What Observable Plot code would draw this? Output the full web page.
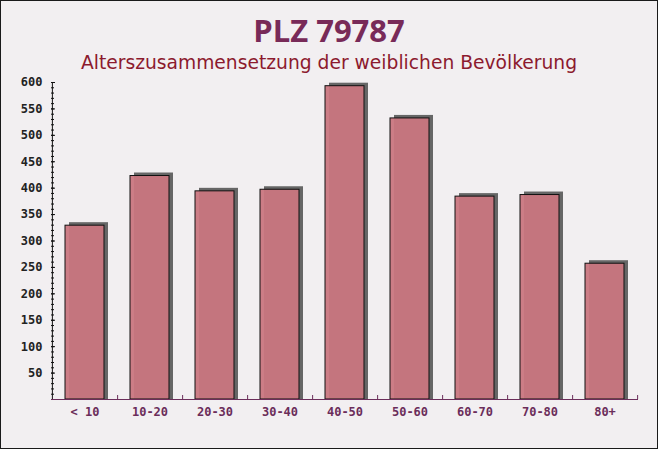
<!DOCTYPE html>
<html>
<head>
<meta charset="utf-8">
<script src="https://cdn.jsdelivr.net/npm/d3@7"></script>
<script src="https://cdn.jsdelivr.net/npm/@observablehq/plot@0.6"></script>
<style>
  html, body { margin: 0; padding: 0; background: #ffffff; }
  #wrap {
    position: relative; width: 658px; height: 449px; box-sizing: border-box;
    border: 1px solid #1a1a1a; background: #f2eff1; overflow: hidden;
  }
  #title {
    position: absolute; left: 0; right: 0; top: 9px; text-align: center;
    font-family: "Open Sans", sans-serif; font-weight: 700; font-size: 31px;
    color: #782a58; line-height: 40px;
  }
  #subtitle {
    position: absolute; left: 0; right: 0; top: 50px; text-align: center;
    font-family: "DejaVu Sans", sans-serif; font-size: 18.7px; color: #8c1a2e; line-height: 24px;
  }
  #chart { position: absolute; left: 0; top: 0; }
</style>
</head>
<body>
<div id="wrap">
  <div id="chart"></div>
  <div id="title">PLZ 79787</div>
  <div id="subtitle">Alterszusammensetzung der weiblichen Bevölkerung</div>
</div>
<script>
const categories = ["< 10", "10-20", "20-30", "30-40", "40-50", "50-60", "60-70", "70-80", "80+"];
const values = [329, 423, 394, 397, 593, 532, 384, 387, 257];
const yTickLabels = [50, 100, 150, 200, 250, 300, 350, 400, 450, 500, 550, 600];
const minorTicks = d3.range(10, 601, 10);

const data = categories.map((c, i) => ({age: c, value: values[i]}));

const W = 656, H = 447;
const mL = 50, mR = 19, mT = 81, mB = 49;
const plotW = W - mL - mR, plotH = H - mT - mB;
const step = plotW / categories.length;

const chart = Plot.plot({
  width: W, height: H,
  marginLeft: mL, marginRight: mR, marginTop: mT, marginBottom: mB,
  style: {background: "transparent", fontFamily: "'DejaVu Sans Mono', monospace", fontSize: "12px", fontWeight: "bold"},
  x: {type: "band", domain: categories, paddingInner: 0.4, paddingOuter: 0.2, label: null},
  y: {domain: [0, 600], label: null},
  marks: [
    // shadows
    Plot.rectY(data, {x: "age", y1: 0, y2: "value", dx: 4, dy: -3, insetBottom: -3, fill: "#5e5e5e", fillOpacity: 0.95}),
    // bars
    Plot.rectY(data, {x: "age", y1: 0, y2: "value", fill: "#c9767f", fillOpacity: 0.95, stroke: "#111", strokeWidth: 1}),
    // y axis minor / major ticks (inward)
    Plot.ruleY(minorTicks, {y: d => d, insetRight: plotW - 3, stroke: "#111"}),
    Plot.ruleY(yTickLabels, {y: d => d, insetRight: plotW - 4, stroke: "#111"}),
    // y axis line
    Plot.ruleX([categories[0]], {x: d => d, dx: -step / 2, stroke: "#111"}),
    // x axis line
    Plot.ruleY([0], {stroke: "#6b2d5a"}),
    // x boundary ticks
    Plot.ruleX(categories, {x: d => d, dx: step / 2, insetTop: plotH - 4, stroke: "#6b2d5a"}),
    Plot.axisY({ticks: yTickLabels, tickSize: 0, tickPadding: 9, fill: "#222", tickFormat: d => String(d), label: null}),
    Plot.axisX({tickSize: 0, tickPadding: 8, fill: "#6b2d5a", label: null})
  ]
});
document.getElementById("chart").appendChild(chart);
</script>
</body>
</html>
